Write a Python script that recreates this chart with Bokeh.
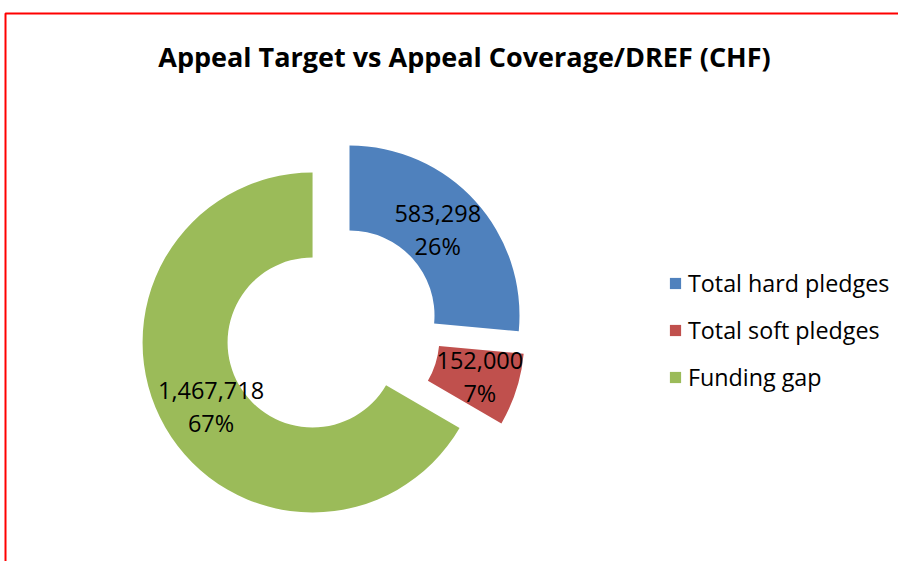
import math
from bokeh.plotting import figure
from bokeh.models import ColumnDataSource, Range1d, Legend, LegendItem
from bokeh.core.properties import value
from bokeh.embed import file_html
from bokeh.resources import INLINE

# ---- data ----
categories = ["Total hard pledges", "Total soft pledges", "Funding gap"]
amounts = [583298, 152000, 1467718]
colors = ["#4F81BD", "#C0504D", "#9BBB59"]
title_text = "Appeal Target vs Appeal Coverage/DREF (CHF)"

# ---- layout (page pixels -> data, 1 unit = 1 px) ----
W, H = 898, 561
PX0, PY0 = 0, 8             # page offset of canvas
PAGE_H = PY0 + H


def px(x):
    return x


def py(y):
    return PAGE_H - y


CX, CY = 332, 330.5          # donut centre (page px)
R_OUT, R_IN = 170, 85
EXPLODE = 23
LABEL_NUDGE = [-6, 4, 9]     # horizontal label placement tweaks (px)

total = sum(amounts)
fracs = [a / total for a in amounts]

xs, ys, starts, ends, lx, ly, labels = [], [], [], [], [], [], []
cum = 0.0
for i, (f, a) in enumerate(zip(fracs, amounts)):
    t1 = cum * 2 * math.pi          # clockwise from 12 o'clock
    t2 = (cum + f) * 2 * math.pi
    tm = (t1 + t2) / 2
    cx = CX + EXPLODE * math.sin(tm)
    cy = CY - EXPLODE * math.cos(tm)
    xs.append(px(cx))
    ys.append(py(cy))
    starts.append(math.pi / 2 - t2)
    ends.append(math.pi / 2 - t1)
    rm = (R_OUT + R_IN) / 2
    lx.append(px(cx + rm * math.sin(tm) + LABEL_NUDGE[i]))
    ly.append(py(cy - rm * math.cos(tm)))
    labels.append(f"{a:,}\n{round(f * 100):d}%")
    cum += f

src = ColumnDataSource(dict(x=xs, y=ys, start=starts, end=ends, color=colors,
                            cat=categories, lx=lx, ly=ly, label=labels))

p = figure(width=W, height=H, output_backend="svg", toolbar_location=None,
           x_range=Range1d(PX0, PX0 + W), y_range=Range1d(PY0, PY0 + H),
           min_border=0, min_border_left=0, min_border_right=0,
           min_border_top=0, min_border_bottom=0)
p.axis.visible = False
p.grid.visible = False
p.outline_line_color = None
p.background_fill_color = "white"
p.border_fill_color = "white"

# chart border (red)
p.line(x=[5, 5, 906], y=[0, py(13), py(13)], line_color="#FF0000", line_width=2)

wedges = p.annular_wedge(x="x", y="y", inner_radius=R_IN, outer_radius=R_OUT,
                         start_angle="start", end_angle="end", direction="anticlock",
                         fill_color="color", line_color=None, source=src)

p.text(x="lx", y="ly", text="label", source=src, text_align="center",
       text_baseline="middle", text_font=value("Open Sans"),
       text_font_size="23.5px", text_color="black", text_line_height=1.03)

# title
p.text(x=[464], y=[py(56)], text=[title_text], text_align="center",
       text_baseline="middle", text_font=value("Open Sans"),
       text_font_style="bold", text_font_size="27px", text_color="black")

legend = Legend(items=[LegendItem(label=c, renderers=[wedges], index=i)
                       for i, c in enumerate(categories)],
                location=(668, 168), orientation="vertical",
                glyph_width=14, glyph_height=14, label_standoff=6,
                label_text_font="Open Sans", label_text_font_size="23.3px",
                label_text_color="black", spacing=15, padding=0, margin=0,
                border_line_color=None, background_fill_alpha=0)
p.add_layout(legend, "center")

open("out.html", "w").write(file_html(p, INLINE))
